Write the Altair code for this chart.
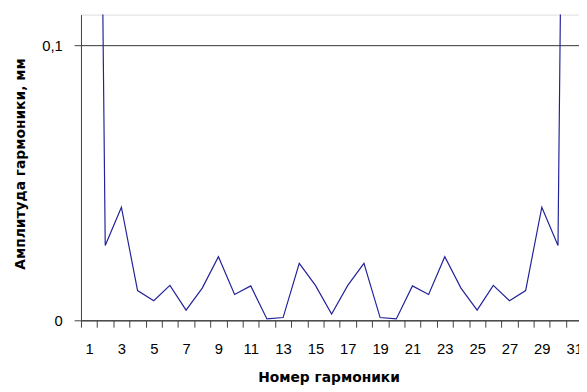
import altair as alt
import pandas as pd

harmonics = list(range(1, 32))
amplitudes = [0.60, 0.0272, 0.0411, 0.0108, 0.0071, 0.0127, 0.0037, 0.0117,
              0.0231, 0.0094, 0.0125, 0.0005, 0.0010, 0.0207, 0.0127, 0.0023,
              0.0127, 0.0207, 0.0010, 0.0005, 0.0125, 0.0094, 0.0231, 0.0117,
              0.0037, 0.0127, 0.0071, 0.0108, 0.0411, 0.0272, 0.60]
x_tick_values = [k + 0.5 for k in range(0, 31)]
y_tick_values = [0, 0.1]

df = pd.DataFrame({"h": harmonics, "a": amplitudes})

x_enc = alt.X(
    "h:Q",
    scale=alt.Scale(domain=[0.5, 31.3], nice=False, zero=False),
    axis=alt.Axis(
        values=x_tick_values,
        labelExpr="(datum.value + 0.5) % 2 == 1 ? '' + (datum.value + 0.5) : ''",
        labelOffset=8.2,
        labelOverlap=False,
        labelFlush=False,
        labelBound=False,
        tickSize=7,
        tickColor="#404040",
        domainColor="#404040",
        labelPadding=15,
        labelFont="Liberation Sans",
        labelFontSize=15,
        labelColor="#000000",
        grid=False,
        title="Номер гармоники",
        titleFont="DejaVu Sans",
        titleFontSize=14,
        titleFontWeight="bold",
        titleColor="#000000",
        titleX=251,
        titleY=58,
        titleBaseline="middle",
        titleAlign="center",
    ),
)

y_enc = alt.Y(
    "a:Q",
    scale=alt.Scale(domain=[0, 0.1111], nice=False),
    axis=alt.Axis(
        values=y_tick_values,
        labelExpr="datum.value == 0 ? '0' : replace(format(datum.value, '.1f'), '.', ',')",
        tickSize=7,
        tickColor="#404040",
        domainColor="#404040",
        labelPadding=12,
        labelFont="Liberation Sans",
        labelFontSize=15,
        labelColor="#000000",
        grid=True,
        gridColor="#333333",
        gridOpacity=1,
        gridWidth=1,
        title="Амплитуда гармоники, мм",
        titleFont="DejaVu Sans",
        titleFontSize=14,
        titleFontWeight="bold",
        titleColor="#000000",
        titleX=-61,
        titleY=151,
        titleAngle=-90,
        titleBaseline="middle",
        titleAlign="center",
    ),
)

chart = (
    alt.Chart(df)
    .mark_line(color="#22229a", strokeWidth=1.2, clip=True)
    .encode(x=x_enc, y=y_enc)
    .properties(
        width=505,
        height=310,
        autosize=alt.AutoSizeParams(type="none"),
        padding={"left": 74, "top": 4, "right": 0, "bottom": 70},
    )
    .configure_view(stroke=None)
    .configure(background="#ffffff")
)

chart.save("out.html", embed_options={"renderer": "svg", "actions": False})
